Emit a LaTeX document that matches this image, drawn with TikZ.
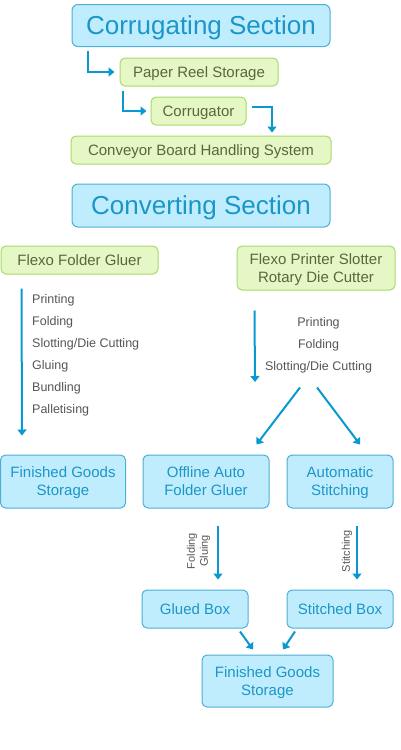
\documentclass[tikz,border=0pt]{standalone}
\usepackage{fontspec}
\setmainfont{Liberation Sans}
\usepackage{xcolor}
\usepackage{tikz}
\usetikzlibrary{positioning,arrows.meta}
\definecolor{plantcyan}{RGB}{192,237,253}
\definecolor{plantcyanline}{RGB}{78,174,212}
\definecolor{plantbluetext}{RGB}{28,150,200}
\definecolor{plantgreen}{RGB}{228,247,196}
\definecolor{plantgreenline}{RGB}{168,219,108}
\definecolor{plantgreentext}{RGB}{88,104,60}
\definecolor{plantarrowblue}{RGB}{10,152,208}
\definecolor{plantgray}{RGB}{85,85,85}
\tikzset{
    plantsection/.style={draw=plantcyanline, fill=plantcyan, text=plantbluetext, rounded corners=6pt, line width=1pt, inner sep=0pt, text depth=0pt, minimum width=258pt, minimum height=42pt, font=\fontsize{26}{30}\selectfont},
    plantmachine/.style={draw=plantgreenline, fill=plantgreen, text=plantgreentext, rounded corners=5pt, line width=1pt, inner sep=0pt, text depth=0pt, align=center, minimum height=28pt, font=\fontsize{15}{18}\selectfont},
    plantstore/.style={draw=plantcyanline, fill=plantcyan, text=plantbluetext, rounded corners=5pt, line width=1pt, inner sep=0pt, text depth=0pt, align=center, font=\fontsize{15}{18}\selectfont},
    plantarrow/.style={draw=plantarrowblue, line width=2pt, -{Triangle[length=6pt,width=9pt]}},
    plantsteps/.style={text=plantgray, inner sep=0pt, font=\fontsize{12.5}{22}\selectfont},
    plantturned/.style={text=plantgray, inner sep=0pt, align=center, rotate=90, font=\fontsize{11}{13}\selectfont}
}

\begin{document}
\begin{tikzpicture}[x=1pt, y=-1pt]
    \useasboundingbox (0,0) rectangle (400,750);
    % corrugating part
    \node[plantsection] (corrsec) at (201,25.5) {Corrugating Section};
    \node[plantmachine, minimum width=158pt] (reel) at (199,72) {Paper Reel Storage};
    \node[plantmachine, minimum width=95pt] (corrug) at (198.5,111) {Corrugator};
    \node[plantmachine, minimum width=260pt] (conveyor) at (201,150) {Conveyor Board Handling System};

    % converting part
    \node[plantsection, minimum height=43pt] (convsec) at (201,205.5) {Converting Section};
    \node[plantmachine, minimum width=157pt] (ffg) at (79.5,260) {Flexo Folder Gluer};
    \node[plantmachine, minimum width=158pt, minimum height=44pt] (fps) at (316,268) {Flexo Printer Slotter\\Rotary Die Cutter};
    \node[plantstore, minimum width=125pt, minimum height=53pt] (fgsleft) at (63,481.5) {Finished Goods\\Storage};
    \node[plantstore, minimum width=126pt, minimum height=53pt] (offline) at (206,481.5) {Offline Auto\\Folder Gluer};
    \node[plantstore, minimum width=106pt, minimum height=53pt] (autostitch) at (340,481.5) {Automatic\\Stitching};
    \node[plantstore, minimum width=106pt, minimum height=38pt] (glued) at (195,609) {Glued Box};
    \node[plantstore, minimum width=106pt, minimum height=38pt] (stitched) at (340,609) {Stitched Box};
    \node[plantstore, minimum width=131pt, minimum height=52pt] (fgsbottom) at (267.5,681) {Finished Goods\\Storage};

    % steps beside the arrows
    \node[plantsteps, align=left, anchor=north west] (ffgsteps) at (32,294) {Printing\\Folding\\Slotting/Die Cutting\\Gluing\\Bundling\\Palletising};
    \node[plantsteps, align=center, anchor=north] (fpssteps) at (318.5,317) {Printing\\Folding\\Slotting/Die Cutting};
    \node[plantturned] (gluesteps) at (198.5,551) {Folding\\Gluing};
    \node[plantturned] (stitchsteps) at (347,551) {Stitching};
    \coordinate (fpsend) at (255,382);

    \draw[plantarrow] ([xshift=16pt,yshift=-4pt]corrsec.south west) |- ([xshift=-5pt]reel.west);
    \draw[plantarrow] ([xshift=3pt,yshift=-4pt]reel.south west) |- ([xshift=-4pt]corrug.west);
    \draw[plantarrow] ([xshift=5pt,yshift=4pt]corrug.east) -| ([xshift=71pt,yshift=3pt]conveyor.north);
    \draw[plantarrow] ([xshift=21pt,yshift=-14pt]ffg.south west) -- ([xshift=-41pt,yshift=19pt]fgsleft.north);
    \draw[plantarrow] ([xshift=18pt,yshift=-20pt]fps.south west) -- (fpsend);
    \draw[plantarrow] ([xshift=-16pt,yshift=-97pt]fps.south) -- ([xshift=-13pt,yshift=10pt]offline.north east);
    \draw[plantarrow] ([xshift=1pt,yshift=-97pt]fps.south) -- ([xshift=20pt,yshift=10pt]autostitch.north);
    \draw[plantarrow] ([xshift=12pt,yshift=-17pt]offline.south) -- ([xshift=23pt,yshift=10pt]glued.north);
    \draw[plantarrow] ([xshift=17pt,yshift=-17pt]autostitch.south) -- ([xshift=17pt,yshift=10pt]stitched.north);
    \draw[plantarrow] ([xshift=45pt,yshift=-3pt]glued.south) -- ([xshift=-14.5pt,yshift=5pt]fgsbottom.north);
    \draw[plantarrow] ([xshift=-45pt,yshift=-3pt]stitched.south) -- ([xshift=15.5pt,yshift=5pt]fgsbottom.north);
\end{tikzpicture}
\end{document}
